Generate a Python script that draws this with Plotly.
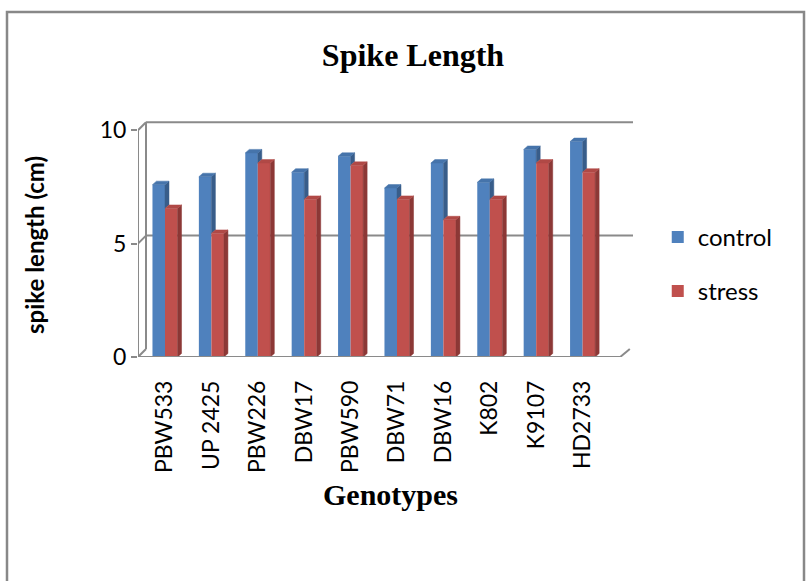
import plotly.graph_objects as go

# ---------------- data ----------------
genotypes = ["PBW533", "UP 2425", "PBW226", "DBW17", "PBW590",
             "DBW71", "DBW16", "K802", "K9107", "HD2733"]
control = [7.6, 7.95, 9.0, 8.15, 8.85, 7.45, 8.55, 7.7, 9.15, 9.5]
stress = [6.55, 5.45, 8.55, 6.95, 8.45, 6.95, 6.05, 6.95, 8.55, 8.15]
y_ticks = [0, 5, 10]

# ---------------- geometry / style ----------------
W, H = 810, 581
L, R, T, B = 138, 633, 120, 357          # plot area in pixels
STEP = 46.4                               # px per category
X0 = (L - 165) / STEP                     # x range start (data units)
X1 = (R - 165) / STEP
YMAX = 10.45
BW = 0.27                                  # bar front-face width
SDX, SDY = 4 / STEP, 3.5 / ((B - T) / YMAX)  # bar depth offsets
WDX, WDY = 8 / STEP, 8 / ((B - T) / YMAX)    # back wall offset

BLUE, BLUE_SIDE, BLUE_TOP = "#4F81BD", "#385D8A", "#4674AB"
RED, RED_SIDE, RED_TOP = "#C0504D", "#8C3836", "#B04946"
GRID = "#8A8A8A"
SANS = "Lato"
SERIF = "Liberation Serif"

idx = list(range(len(genotypes)))

fig = go.Figure()

# front faces
fig.add_trace(go.Bar(x=idx, y=control, width=BW, offset=-BW, name="control",
                     marker=dict(color=BLUE, line=dict(width=0)),
                     legendgroup="c", hoverinfo="skip"))
fig.add_trace(go.Bar(x=idx, y=stress, width=BW, offset=0, name="stress",
                     marker=dict(color=RED, line=dict(width=0)),
                     legendgroup="s", hoverinfo="skip"))


def poly_trace(polys, color):
    xs, ys = [], []
    for p in polys:
        for (a, b) in p:
            xs.append(a)
            ys.append(b)
        xs.append(p[0][0]); ys.append(p[0][1])
        xs.append(None); ys.append(None)
    return go.Scatter(x=xs, y=ys, mode="lines", fill="toself", fillcolor=color,
                      line=dict(width=0.5, color=color), showlegend=False,
                      hoverinfo="skip")


# control side + top (side clipped above the stress bar in front of it)
c_side, c_top, s_side, s_top = [], [], [], []
for i, (v, r) in enumerate(zip(control, stress)):
    lo = min(r, v)
    c_side.append([(i, lo), (i + SDX, lo + SDY), (i + SDX, v + SDY), (i, v)])
    c_top.append([(i - BW, v), (i, v), (i + SDX, v + SDY), (i - BW + SDX, v + SDY)])
    e = i + BW
    s_side.append([(e, 0), (e + SDX, SDY), (e + SDX, r + SDY), (e, r)])
    s_top.append([(i, r), (e, r), (e + SDX, r + SDY), (i + SDX, r + SDY)])

fig.add_trace(poly_trace(c_side, BLUE_SIDE))
fig.add_trace(poly_trace(c_top, BLUE_TOP))
fig.add_trace(poly_trace(s_side, RED_SIDE))
fig.add_trace(poly_trace(s_top, RED_TOP))

# 3D frame (back wall gridlines, diagonals, floor, front axis)
shapes = []
ln = dict(color=GRID, width=2)
for t in y_ticks:
    shapes.append(dict(type="line", xref="x", yref="y", x0=X0, y0=t,
                       x1=X0 + WDX, y1=t + WDY, line=ln, layer="below"))
    if t > 0:
        shapes.append(dict(type="line", xref="x", yref="y", x0=X0 + WDX, y0=t + WDY,
                           x1=X1, y1=t + WDY, line=ln, layer="below"))
shapes.append(dict(type="line", xref="x", yref="y", x0=X0 + WDX, y0=WDY,
                   x1=X0 + WDX, y1=10 + WDY, line=ln, layer="below"))
shapes.append(dict(type="line", xref="x", yref="y", x0=X0, y0=0,
                   x1=X0, y1=10, line=ln, layer="below"))
shapes.append(dict(type="line", xref="x", yref="y", x0=X0, y0=0,
                   x1=X1 - WDX * 1.6, y1=0, line=ln, layer="above"))
shapes.append(dict(type="line", xref="x", yref="y", x0=X1 - WDX * 1.6, y0=0,
                   x1=X1 - WDX * 0.4, y1=WDY, line=ln, layer="above"))


# chart border (paper coordinates of the plot area)
def px_x(p):
    return (p - L) / (R - L)


def px_y(p):
    return (B - p) / (B - T)


shapes.append(dict(type="rect", xref="paper", yref="paper",
                   x0=px_x(7), x1=px_x(804), y0=px_y(12), y1=px_y(600),
                   line=dict(color="#888888", width=2.5), layer="below"))

fig.update_layout(
    width=W, height=H,
    margin=dict(l=L, r=W - R, t=T, b=H - B),
    paper_bgcolor="white", plot_bgcolor="white",
    barmode="overlay",
    shapes=shapes,
    title=dict(text="<b>Spike Length</b>", x=413 / W, xanchor="center",
               y=1 - 55 / H, yanchor="middle", xref="container", yref="container",
               font=dict(family=SERIF, size=32, color="black")),
    xaxis=dict(range=[X0, X1], tickmode="array", tickvals=idx, ticktext=genotypes,
               tickangle=-90, showgrid=False, zeroline=False, showline=False,
               ticks="", ticklabelstandoff=18,
               tickfont=dict(family=SANS, size=23, color="black")),
    yaxis=dict(range=[0, YMAX], tickmode="array", tickvals=y_ticks,
               showgrid=False, zeroline=False, showline=False,
               ticks="outside", ticklen=6, tickcolor=GRID, tickwidth=2,
               tickfont=dict(family=SANS, size=23, color="black")),
    legend=dict(x=1.05, xanchor="left", y=0.6, yanchor="top",
                font=dict(family=SANS, size=24, color="black"),
                tracegroupgap=20, traceorder="grouped", bgcolor="rgba(0,0,0,0)"),
    annotations=[
        dict(text="<b>Genotypes</b>", xref="paper", yref="paper",
             x=px_x(390), y=px_y(494), xanchor="center", yanchor="middle",
             showarrow=False, font=dict(family=SERIF, size=30, color="black")),
        dict(text="<b>spike length (cm)</b>", xref="paper", yref="paper",
             x=px_x(34), y=px_y(245), xanchor="center", yanchor="middle",
             textangle=-90, showarrow=False,
             font=dict(family=SANS, size=24, color="black")),
    ],
)

fig.write_html("out.html", config={"displayModeBar": False},
               post_script="document.body.style.margin='0px';")
